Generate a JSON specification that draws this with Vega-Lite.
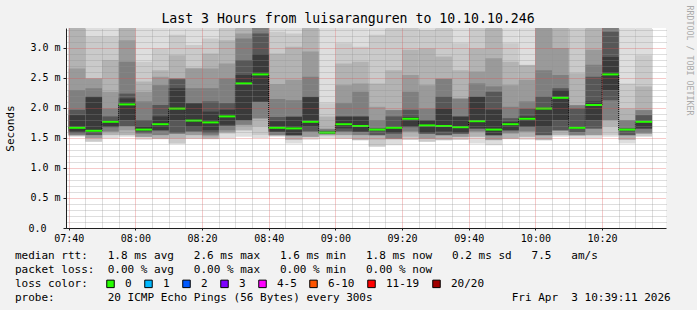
{
  "$schema": "https://vega.github.io/schema/vega-lite/v6.json",
  "width": 600,
  "height": 200,
  "autosize": {"type": "none"},
  "padding": {"left": 66, "top": 28, "right": 31, "bottom": 82},
  "background": "#f2f2f2",
  "config": {
    "font": "DejaVu Sans Mono",
    "view": {"fill": "#ffffff", "stroke": null}
  },
  "title": {
    "text": "Last 3 Hours from luisaranguren to 10.10.10.246",
    "font": "DejaVu Sans Mono",
    "fontSize": 13.2,
    "fontWeight": "normal",
    "color": "#000000",
    "anchor": "middle",
    "dx": -18,
    "dy": 25,
    "offset": 4
  },
  "data": {
    "values": [
      {"t": "2026-04-03T07:40:00", "e": "2026-04-03T07:45:00", "loss": "0", "m": 1.67, "h1": 3.6, "h2": 3.6, "h3": 3.6, "h4": 2.66, "h5": 2.30, "h6": 1.97, "h7": 1.88, "l7": 1.61, "l6": 1.58, "l5": 1.55, "l4": 1.545, "l3": 1.54, "l2": 1.535, "l1": 1.52},
      {"t": "2026-04-03T07:45:00", "e": "2026-04-03T07:50:00", "loss": "0", "m": 1.62, "h1": 3.6, "h2": 3.19, "h3": 2.49, "h4": 2.49, "h5": 2.33, "h6": 2.19, "h7": 2.18, "l7": 1.60, "l6": 1.55, "l5": 1.545, "l4": 1.50, "l3": 1.495, "l2": 1.44, "l1": 1.435},
      {"t": "2026-04-03T07:50:00", "e": "2026-04-03T07:55:00", "loss": "0", "m": 1.77, "h1": 3.6, "h2": 3.19, "h3": 2.80, "h4": 2.27, "h5": 1.99, "h6": 1.86, "h7": 1.80, "l7": 1.69, "l6": 1.68, "l5": 1.61, "l4": 1.60, "l3": 1.55, "l2": 1.545, "l1": 1.49},
      {"t": "2026-04-03T07:55:00", "e": "2026-04-03T08:00:00", "loss": "0", "m": 2.06, "h1": 3.6, "h2": 3.6, "h3": 3.6, "h4": 3.13, "h5": 2.77, "h6": 2.24, "h7": 2.16, "l7": 1.80, "l6": 1.70, "l5": 1.69, "l4": 1.63, "l3": 1.55, "l2": 1.545, "l1": 1.52},
      {"t": "2026-04-03T08:00:00", "e": "2026-04-03T08:05:00", "loss": "0", "m": 1.64, "h1": 3.6, "h2": 2.77, "h3": 2.44, "h4": 2.27, "h5": 2.11, "h6": 1.80, "h7": 1.69, "l7": 1.62, "l6": 1.58, "l5": 1.575, "l4": 1.52, "l3": 1.515, "l2": 1.51, "l1": 1.47},
      {"t": "2026-04-03T08:05:00", "e": "2026-04-03T08:10:00", "loss": "0", "m": 1.73, "h1": 3.6, "h2": 2.99, "h3": 2.63, "h4": 2.52, "h5": 2.38, "h6": 2.05, "h7": 1.86, "l7": 1.63, "l6": 1.625, "l5": 1.55, "l4": 1.545, "l3": 1.49, "l2": 1.485, "l1": 1.48},
      {"t": "2026-04-03T08:10:00", "e": "2026-04-03T08:15:00", "loss": "0", "m": 1.99, "h1": 3.6, "h2": 3.22, "h3": 2.88, "h4": 2.50, "h5": 2.49, "h6": 2.48, "h7": 2.33, "l7": 1.80, "l6": 1.58, "l5": 1.575, "l4": 1.57, "l3": 1.49, "l2": 1.41, "l1": 1.405},
      {"t": "2026-04-03T08:15:00", "e": "2026-04-03T08:20:00", "loss": "0", "m": 1.79, "h1": 3.6, "h2": 3.05, "h3": 2.67, "h4": 2.66, "h5": 2.33, "h6": 2.08, "h7": 2.075, "l7": 1.69, "l6": 1.61, "l5": 1.605, "l4": 1.55, "l3": 1.545, "l2": 1.49, "l1": 1.485},
      {"t": "2026-04-03T08:20:00", "e": "2026-04-03T08:25:00", "loss": "0", "m": 1.76, "h1": 3.6, "h2": 3.16, "h3": 2.91, "h4": 2.66, "h5": 2.33, "h6": 2.11, "h7": 1.94, "l7": 1.63, "l6": 1.58, "l5": 1.55, "l4": 1.53, "l3": 1.49, "l2": 1.485, "l1": 1.48},
      {"t": "2026-04-03T08:25:00", "e": "2026-04-03T08:30:00", "loss": "0", "m": 1.86, "h1": 3.6, "h2": 3.6, "h3": 3.13, "h4": 2.74, "h5": 2.49, "h6": 2.08, "h7": 1.97, "l7": 1.72, "l6": 1.70, "l5": 1.63, "l4": 1.60, "l3": 1.58, "l2": 1.575, "l1": 1.49},
      {"t": "2026-04-03T08:30:00", "e": "2026-04-03T08:35:00", "loss": "0", "m": 2.41, "h1": 3.6, "h2": 3.6, "h3": 3.6, "h4": 3.24, "h5": 3.16, "h6": 2.80, "h7": 2.55, "l7": 1.80, "l6": 1.79, "l5": 1.72, "l4": 1.71, "l3": 1.63, "l2": 1.625, "l1": 1.52},
      {"t": "2026-04-03T08:35:00", "e": "2026-04-03T08:40:00", "loss": "0", "m": 2.56, "h1": 3.6, "h2": 3.6, "h3": 3.6, "h4": 3.6, "h5": 3.6, "h6": 3.24, "h7": 2.90, "l7": 2.11, "l6": 2.10, "l5": 1.83, "l4": 1.82, "l3": 1.69, "l2": 1.55, "l1": 1.50},
      {"t": "2026-04-03T08:40:00", "e": "2026-04-03T08:45:00", "loss": "0", "m": 1.67, "h1": 3.6, "h2": 3.27, "h3": 2.91, "h4": 2.40, "h5": 2.15, "h6": 1.85, "h7": 1.78, "l7": 1.61, "l6": 1.60, "l5": 1.55, "l4": 1.545, "l3": 1.54, "l2": 1.535, "l1": 1.52},
      {"t": "2026-04-03T08:45:00", "e": "2026-04-03T08:50:00", "loss": "0", "m": 1.66, "h1": 3.6, "h2": 3.24, "h3": 3.02, "h4": 2.47, "h5": 2.13, "h6": 1.86, "h7": 1.85, "l7": 1.55, "l6": 1.545, "l5": 1.54, "l4": 1.53, "l3": 1.47, "l2": 1.465, "l1": 1.41},
      {"t": "2026-04-03T08:50:00", "e": "2026-04-03T08:55:00", "loss": "0", "m": 1.77, "h1": 3.6, "h2": 3.6, "h3": 3.6, "h4": 2.94, "h5": 2.52, "h6": 2.19, "h7": 2.18, "l7": 1.69, "l6": 1.61, "l5": 1.605, "l4": 1.52, "l3": 1.515, "l2": 1.51, "l1": 1.47},
      {"t": "2026-04-03T08:55:00", "e": "2026-04-03T09:00:00", "loss": "0", "m": 1.59, "h1": 3.6, "h2": 2.08, "h3": 1.86, "h4": 1.66, "h5": 1.65, "h6": 1.62, "h7": 1.60, "l7": 1.58, "l6": 1.575, "l5": 1.57, "l4": 1.55, "l3": 1.545, "l2": 1.53, "l1": 1.49},
      {"t": "2026-04-03T09:00:00", "e": "2026-04-03T09:05:00", "loss": "0", "m": 1.73, "h1": 3.6, "h2": 3.08, "h3": 2.74, "h4": 2.38, "h5": 2.08, "h6": 1.86, "h7": 1.855, "l7": 1.66, "l6": 1.61, "l5": 1.605, "l4": 1.55, "l3": 1.545, "l2": 1.49, "l1": 1.485},
      {"t": "2026-04-03T09:05:00", "e": "2026-04-03T09:10:00", "loss": "0", "m": 1.70, "h1": 3.6, "h2": 3.02, "h3": 2.77, "h4": 2.41, "h5": 2.27, "h6": 1.86, "h7": 1.855, "l7": 1.61, "l6": 1.60, "l5": 1.55, "l4": 1.545, "l3": 1.47, "l2": 1.465, "l1": 1.46},
      {"t": "2026-04-03T09:10:00", "e": "2026-04-03T09:15:00", "loss": "0", "m": 1.64, "h1": 3.6, "h2": 3.22, "h3": 2.41, "h4": 2.02, "h5": 1.80, "h6": 1.66, "h7": 1.655, "l7": 1.63, "l6": 1.55, "l5": 1.545, "l4": 1.54, "l3": 1.47, "l2": 1.36, "l1": 1.355},
      {"t": "2026-04-03T09:15:00", "e": "2026-04-03T09:20:00", "loss": "0", "m": 1.67, "h1": 3.6, "h2": 3.6, "h3": 2.63, "h4": 1.97, "h5": 1.965, "h6": 1.86, "h7": 1.69, "l7": 1.58, "l6": 1.575, "l5": 1.49, "l4": 1.485, "l3": 1.48, "l2": 1.475, "l1": 1.38},
      {"t": "2026-04-03T09:20:00", "e": "2026-04-03T09:25:00", "loss": "0", "m": 1.82, "h1": 3.6, "h2": 3.6, "h3": 2.97, "h4": 2.55, "h5": 2.27, "h6": 1.97, "h7": 1.85, "l7": 1.69, "l6": 1.68, "l5": 1.61, "l4": 1.60, "l3": 1.52, "l2": 1.47, "l1": 1.465},
      {"t": "2026-04-03T09:25:00", "e": "2026-04-03T09:30:00", "loss": "0", "m": 1.71, "h1": 3.6, "h2": 3.3, "h3": 2.99, "h4": 2.38, "h5": 1.99, "h6": 1.80, "h7": 1.79, "l7": 1.58, "l6": 1.575, "l5": 1.57, "l4": 1.49, "l3": 1.485, "l2": 1.44, "l1": 1.435},
      {"t": "2026-04-03T09:30:00", "e": "2026-04-03T09:35:00", "loss": "0", "m": 1.70, "h1": 3.6, "h2": 3.6, "h3": 2.86, "h4": 2.49, "h5": 2.485, "h6": 2.19, "h7": 1.99, "l7": 1.61, "l6": 1.55, "l5": 1.545, "l4": 1.54, "l3": 1.47, "l2": 1.465, "l1": 1.46},
      {"t": "2026-04-03T09:35:00", "e": "2026-04-03T09:40:00", "loss": "0", "m": 1.68, "h1": 3.6, "h2": 3.08, "h3": 2.63, "h4": 2.16, "h5": 2.155, "h6": 1.86, "h7": 1.855, "l7": 1.58, "l6": 1.575, "l5": 1.57, "l4": 1.52, "l3": 1.515, "l2": 1.47, "l1": 1.465},
      {"t": "2026-04-03T09:40:00", "e": "2026-04-03T09:45:00", "loss": "0", "m": 1.78, "h1": 3.6, "h2": 3.6, "h3": 2.99, "h4": 2.61, "h5": 2.41, "h6": 2.19, "h7": 2.185, "l7": 1.66, "l6": 1.655, "l5": 1.61, "l4": 1.605, "l3": 1.52, "l2": 1.515, "l1": 1.41},
      {"t": "2026-04-03T09:45:00", "e": "2026-04-03T09:50:00", "loss": "0", "m": 1.64, "h1": 3.6, "h2": 3.6, "h3": 3.6, "h4": 2.83, "h5": 2.36, "h6": 2.27, "h7": 1.97, "l7": 1.55, "l6": 1.545, "l5": 1.54, "l4": 1.47, "l3": 1.465, "l2": 1.46, "l1": 1.38},
      {"t": "2026-04-03T09:50:00", "e": "2026-04-03T09:55:00", "loss": "0", "m": 1.73, "h1": 3.6, "h2": 3.08, "h3": 2.77, "h4": 2.38, "h5": 2.02, "h6": 1.83, "h7": 1.77, "l7": 1.63, "l6": 1.625, "l5": 1.58, "l4": 1.575, "l3": 1.49, "l2": 1.485, "l1": 1.48},
      {"t": "2026-04-03T09:55:00", "e": "2026-04-03T10:00:00", "loss": "0", "m": 1.82, "h1": 3.6, "h2": 2.72, "h3": 2.715, "h4": 2.47, "h5": 2.11, "h6": 1.99, "h7": 1.86, "l7": 1.69, "l6": 1.685, "l5": 1.61, "l4": 1.605, "l3": 1.52, "l2": 1.515, "l1": 1.47},
      {"t": "2026-04-03T10:00:00", "e": "2026-04-03T10:05:00", "loss": "0", "m": 1.99, "h1": 3.6, "h2": 3.6, "h3": 3.6, "h4": 3.6, "h5": 2.63, "h6": 2.19, "h7": 1.995, "l7": 1.69, "l6": 1.55, "l5": 1.545, "l4": 1.54, "l3": 1.47, "l2": 1.465, "l1": 1.46},
      {"t": "2026-04-03T10:05:00", "e": "2026-04-03T10:10:00", "loss": "0", "m": 2.17, "h1": 3.6, "h2": 3.6, "h3": 3.6, "h4": 3.0, "h5": 2.55, "h6": 2.33, "h7": 2.30, "l7": 1.80, "l6": 1.63, "l5": 1.625, "l4": 1.62, "l3": 1.55, "l2": 1.545, "l1": 1.52},
      {"t": "2026-04-03T10:10:00", "e": "2026-04-03T10:15:00", "loss": "0", "m": 1.67, "h1": 3.6, "h2": 3.6, "h3": 2.58, "h4": 2.05, "h5": 2.045, "h6": 1.99, "h7": 1.69, "l7": 1.66, "l6": 1.60, "l5": 1.55, "l4": 1.545, "l3": 1.54, "l2": 1.535, "l1": 1.49},
      {"t": "2026-04-03T10:15:00", "e": "2026-04-03T10:20:00", "loss": "0", "m": 2.05, "h1": 3.6, "h2": 3.6, "h3": 3.6, "h4": 2.97, "h5": 2.72, "h6": 2.52, "h7": 2.11, "l7": 1.80, "l6": 1.66, "l5": 1.655, "l4": 1.55, "l3": 1.545, "l2": 1.54, "l1": 1.49},
      {"t": "2026-04-03T10:20:00", "e": "2026-04-03T10:25:00", "loss": "0", "m": 2.56, "h1": 3.6, "h2": 3.6, "h3": 3.6, "h4": 3.6, "h5": 3.6, "h6": 3.27, "h7": 2.85, "l7": 2.30, "l6": 2.13, "l5": 1.80, "l4": 1.795, "l3": 1.69, "l2": 1.55, "l1": 1.52},
      {"t": "2026-04-03T10:25:00", "e": "2026-04-03T10:30:00", "loss": "0", "m": 1.64, "h1": 3.6, "h2": 2.41, "h3": 1.99, "h4": 1.80, "h5": 1.795, "h6": 1.66, "h7": 1.655, "l7": 1.635, "l6": 1.55, "l5": 1.545, "l4": 1.54, "l3": 1.47, "l2": 1.465, "l1": 1.41},
      {"t": "2026-04-03T10:30:00", "e": "2026-04-03T10:35:00", "loss": "0", "m": 1.77, "h1": 3.6, "h2": 2.88, "h3": 2.36, "h4": 1.97, "h5": 1.965, "h6": 1.88, "h7": 1.78, "l7": 1.66, "l6": 1.655, "l5": 1.58, "l4": 1.575, "l3": 1.57, "l2": 1.53, "l1": 1.52}
    ]
  },
  "resolve": {"axis": {"x": "independent", "y": "independent"}},
  "layer": [
    {
      "mark": {"type": "rect", "clip": true, "color": "#dedede"},
      "encoding": {
        "x": {
          "field": "t", "type": "temporal",
          "scale": {"domain": [{"year": 2026, "month": 4, "date": 3, "hours": 7, "minutes": 39, "seconds": 11}, {"year": 2026, "month": 4, "date": 3, "hours": 10, "minutes": 39, "seconds": 11}], "nice": false},
          "axis": {
            "orient": "bottom",
            "zindex": 1,
            "values": [
              {"year": 2026, "month": 4, "date": 3, "hours": 7, "minutes": 40},
              {"year": 2026, "month": 4, "date": 3, "hours": 8, "minutes": 0},
              {"year": 2026, "month": 4, "date": 3, "hours": 8, "minutes": 20},
              {"year": 2026, "month": 4, "date": 3, "hours": 8, "minutes": 40},
              {"year": 2026, "month": 4, "date": 3, "hours": 9, "minutes": 0},
              {"year": 2026, "month": 4, "date": 3, "hours": 9, "minutes": 20},
              {"year": 2026, "month": 4, "date": 3, "hours": 9, "minutes": 40},
              {"year": 2026, "month": 4, "date": 3, "hours": 10, "minutes": 0},
              {"year": 2026, "month": 4, "date": 3, "hours": 10, "minutes": 20}
            ],
            "format": "%H:%M",
            "labelFont": "DejaVu Sans Mono", "labelFontSize": 10, "labelColor": "#000000",
            "labelFlush": false, "labelOverlap": false, "labelPadding": 3, "labelBaseline": "top",
            "grid": true, "gridDash": [1, 1], "gridColor": "#de4f4f", "gridOpacity": 0.6,
            "ticks": true, "tickSize": 2, "tickColor": "#1f1f1f",
            "domainColor": "#1f1f1f", "domainWidth": 1,
            "title": [
              "median rtt:\u00a0\u00a0\u00a01.8 ms avg\u00a0\u00a0\u00a02.6 ms max\u00a0\u00a0\u00a01.6 ms min\u00a0\u00a0\u00a01.8 ms now\u00a0\u00a0\u00a00.2 ms sd\u00a0\u00a0\u00a07.5\u00a0\u00a0\u00a0am/s",
              "packet loss:\u00a0\u00a00.00 % avg\u00a0\u00a0\u00a00.00 % max\u00a0\u00a0\u00a00.00 % min\u00a0\u00a0\u00a00.00 % now",
              "loss color:",
              "probe:\u00a0\u00a0\u00a0\u00a0\u00a0\u00a0\u00a0\u00a020 ICMP Echo Pings (56 Bytes) every 300s\u00a0\u00a0\u00a0\u00a0\u00a0\u00a0\u00a0\u00a0\u00a0\u00a0\u00a0\u00a0\u00a0\u00a0\u00a0\u00a0\u00a0\u00a0\u00a0\u00a0\u00a0Fri Apr\u00a0\u00a03 10:39:11 2026"
            ],
            "titleFont": "DejaVu Sans Mono", "titleFontSize": 11, "titleFontWeight": "normal", "titleColor": "#000000",
            "titleAlign": "left", "titleAnchor": "start", "titleBaseline": "alphabetic",
            "titleLineHeight": 14, "titleX": -51.5, "titleY": 30
          }
        },
        "x2": {"field": "e"},
        "y": {
          "field": "l1", "type": "quantitative",
          "scale": {"domain": [0, 3.3333], "nice": false, "zero": true},
          "axis": {
            "orient": "left",
            "zindex": 1,
            "values": [0, 0.5, 1.0, 1.5, 2.0, 2.5, 3.0],
            "labelExpr": "datum.value < 0.001 ? '0.0\u2800\u2800' : format(datum.value, '.1f') + ' m'",
            "labelFont": "DejaVu Sans Mono", "labelFontSize": 10, "labelColor": "#000000",
            "labelFlush": false, "labelOverlap": false, "labelPadding": 3,
            "grid": true, "gridDash": [1, 1], "gridColor": "#de4f4f", "gridOpacity": 0.6,
            "ticks": true, "tickSize": 3, "tickColor": "#1f1f1f",
            "domainColor": "#1f1f1f", "domainWidth": 1,
            "title": "Seconds",
            "titleFont": "DejaVu Sans Mono", "titleFontSize": 11, "titleFontWeight": "normal", "titleColor": "#000000",
            "titleAngle": 270, "titleAlign": "center", "titleBaseline": "middle", "titleX": -56, "titleY": 100
          }
        },
        "y2": {"field": "h1"}
      }
    },
    {
      "mark": {"type": "rect", "clip": true, "color": "#cacaca"},
      "encoding": {"x": {"field": "t", "type": "temporal", "axis": null}, "x2": {"field": "e"}, "y": {"field": "l2", "type": "quantitative", "axis": null}, "y2": {"field": "h2"}}
    },
    {
      "mark": {"type": "rect", "clip": true, "color": "#b3b3b3"},
      "encoding": {"x": {"field": "t", "type": "temporal", "axis": null}, "x2": {"field": "e"}, "y": {"field": "l3", "type": "quantitative", "axis": null}, "y2": {"field": "h3"}}
    },
    {
      "mark": {"type": "rect", "clip": true, "color": "#9a9a9a"},
      "encoding": {"x": {"field": "t", "type": "temporal", "axis": null}, "x2": {"field": "e"}, "y": {"field": "l4", "type": "quantitative", "axis": null}, "y2": {"field": "h4"}}
    },
    {
      "mark": {"type": "rect", "clip": true, "color": "#7f7f7f"},
      "encoding": {"x": {"field": "t", "type": "temporal", "axis": null}, "x2": {"field": "e"}, "y": {"field": "l5", "type": "quantitative", "axis": null}, "y2": {"field": "h5"}}
    },
    {
      "mark": {"type": "rect", "clip": true, "color": "#575757"},
      "encoding": {"x": {"field": "t", "type": "temporal", "axis": null}, "x2": {"field": "e"}, "y": {"field": "l6", "type": "quantitative", "axis": null}, "y2": {"field": "h6"}}
    },
    {
      "mark": {"type": "rect", "clip": true, "color": "#3a3a3a"},
      "encoding": {"x": {"field": "t", "type": "temporal", "axis": null}, "x2": {"field": "e"}, "y": {"field": "l7", "type": "quantitative", "axis": null}, "y2": {"field": "h7"}}
    },
    {
      "mark": {"type": "line", "interpolate": "step-after", "color": "#000000", "strokeWidth": 1, "strokeDash": [1, 1], "clip": true},
      "encoding": {
        "x": {
          "field": "t", "type": "temporal",
          "axis": {
            "orient": "top", "zindex": 1, "labels": false, "ticks": false, "domain": false, "title": null,
            "grid": true, "gridDash": [1, 1], "gridColor": "#8f8f8f", "gridOpacity": 0.6,
            "values": [
              {"year": 2026, "month": 4, "date": 3, "hours": 7, "minutes": 45},
              {"year": 2026, "month": 4, "date": 3, "hours": 7, "minutes": 50},
              {"year": 2026, "month": 4, "date": 3, "hours": 7, "minutes": 55},
              {"year": 2026, "month": 4, "date": 3, "hours": 8, "minutes": 5},
              {"year": 2026, "month": 4, "date": 3, "hours": 8, "minutes": 10},
              {"year": 2026, "month": 4, "date": 3, "hours": 8, "minutes": 15},
              {"year": 2026, "month": 4, "date": 3, "hours": 8, "minutes": 25},
              {"year": 2026, "month": 4, "date": 3, "hours": 8, "minutes": 30},
              {"year": 2026, "month": 4, "date": 3, "hours": 8, "minutes": 35},
              {"year": 2026, "month": 4, "date": 3, "hours": 8, "minutes": 45},
              {"year": 2026, "month": 4, "date": 3, "hours": 8, "minutes": 50},
              {"year": 2026, "month": 4, "date": 3, "hours": 8, "minutes": 55},
              {"year": 2026, "month": 4, "date": 3, "hours": 9, "minutes": 5},
              {"year": 2026, "month": 4, "date": 3, "hours": 9, "minutes": 10},
              {"year": 2026, "month": 4, "date": 3, "hours": 9, "minutes": 15},
              {"year": 2026, "month": 4, "date": 3, "hours": 9, "minutes": 25},
              {"year": 2026, "month": 4, "date": 3, "hours": 9, "minutes": 30},
              {"year": 2026, "month": 4, "date": 3, "hours": 9, "minutes": 35},
              {"year": 2026, "month": 4, "date": 3, "hours": 9, "minutes": 45},
              {"year": 2026, "month": 4, "date": 3, "hours": 9, "minutes": 50},
              {"year": 2026, "month": 4, "date": 3, "hours": 9, "minutes": 55},
              {"year": 2026, "month": 4, "date": 3, "hours": 10, "minutes": 5},
              {"year": 2026, "month": 4, "date": 3, "hours": 10, "minutes": 10},
              {"year": 2026, "month": 4, "date": 3, "hours": 10, "minutes": 15},
              {"year": 2026, "month": 4, "date": 3, "hours": 10, "minutes": 25},
              {"year": 2026, "month": 4, "date": 3, "hours": 10, "minutes": 30},
              {"year": 2026, "month": 4, "date": 3, "hours": 10, "minutes": 35}
            ]
          }
        },
        "y": {"field": "m", "type": "quantitative", "axis": null}
      }
    },
    {
      "mark": {"type": "rule", "strokeWidth": 2, "clip": true, "color": "#26ff00"},
      "encoding": {
        "x": {"field": "t", "type": "temporal", "axis": null},
        "x2": {"field": "e"},
        "y": {
          "field": "m", "type": "quantitative",
          "axis": {
            "orient": "right", "zindex": 1, "labels": false, "ticks": false, "domain": false,
            "grid": true, "gridDash": [1, 1], "gridColor": "#8f8f8f", "gridOpacity": 0.6,
            "values": [0.1, 0.2, 0.3, 0.4, 0.6, 0.7, 0.8, 0.9, 1.1, 1.2, 1.3, 1.4, 1.6, 1.7, 1.8, 1.9, 2.1, 2.2, 2.3, 2.4, 2.6, 2.7, 2.8, 2.9, 3.1, 3.2, 3.3],
            "title": "RRDTOOL / TOBI OETIKER",
            "titleFont": "DejaVu Sans Mono", "titleFontSize": 8.3, "titleFontWeight": "normal", "titleColor": "#aaaaaa",
            "titleAngle": 90, "titleAlign": "left", "titleBaseline": "middle", "titleX": 22, "titleY": -23
          }
        },
        "fill": {
          "field": "loss", "type": "nominal",
          "scale": {"domain": ["0", "1", "2", "3", "4-5", "6-10", "11-19", "20/20"], "range": ["#26ff00", "#00b8ff", "#0059ff", "#7e00ff", "#ff00ff", "#ff5500", "#ff0000", "#a10000"]},
          "legend": {
            "orient": "none", "legendX": 39, "legendY": 250,
            "direction": "horizontal", "columns": 8,
            "title": null,
            "labelFont": "DejaVu Sans Mono", "labelFontSize": 11, "labelColor": "#000000", "labelOffset": 9,
            "symbolType": "square", "symbolSize": 56, "symbolStrokeWidth": 1, "columnPadding": 10,
            "symbolStrokeColor": "#000000", "symbolOpacity": 1
          }
        }
      }
    }
  ]
}
